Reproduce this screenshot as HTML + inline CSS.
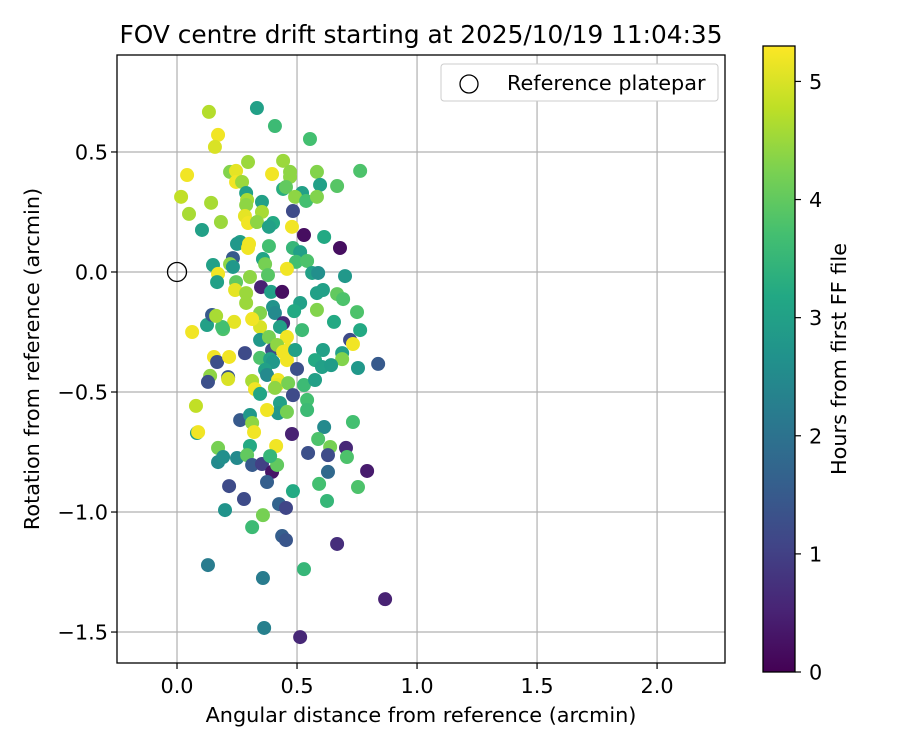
<!DOCTYPE html>
<html><head><meta charset="utf-8"><style>
body{margin:0;background:#fff;}
svg text{font-family:"DejaVu Sans","Liberation Sans",sans-serif;fill:#000;}
</style></head><body>
<svg id="chart" width="900" height="750" xmlns="http://www.w3.org/2000/svg">
<defs><linearGradient id="vir" x1="0" y1="1" x2="0" y2="0">
<stop offset="0" stop-color="#440154"/><stop offset="0.1" stop-color="#482475"/><stop offset="0.2" stop-color="#414487"/><stop offset="0.3" stop-color="#355f8d"/><stop offset="0.4" stop-color="#2a788e"/><stop offset="0.5" stop-color="#21918c"/><stop offset="0.6" stop-color="#22a884"/><stop offset="0.7" stop-color="#44bf70"/><stop offset="0.8" stop-color="#7ad151"/><stop offset="0.9" stop-color="#bddf26"/><stop offset="1" stop-color="#fde725"/>
</linearGradient>
<clipPath id="plotclip"><rect x="117" y="55" width="608" height="608"/></clipPath></defs>
<text x="421" y="43" font-size="24.8" text-anchor="middle">FOV centre drift starting at 2025/10/19 11:04:35</text>
<g id="grid"></g>
<g id="points" clip-path="url(#plotclip)"></g>
<rect x="117" y="55" width="608" height="608" fill="none" stroke="#000" stroke-width="1.3"/>
<g id="ticks"></g>
<text x="421" y="722" font-size="20.8" text-anchor="middle">Angular distance from reference (arcmin)</text>
<text transform="translate(39,359) rotate(-90)" font-size="20.8" text-anchor="middle">Rotation from reference (arcmin)</text>
<g>
<rect x="441" y="64" width="277" height="37" rx="3" fill="#fff" stroke="#ccc"/>
<circle cx="469" cy="84" r="9" fill="none" stroke="#000" stroke-width="1.3"/>
<text x="507" y="90" font-size="20.8">Reference platepar</text>
</g>
<rect x="763" y="46" width="32" height="626" fill="url(#vir)" stroke="#000" stroke-width="1.3"/>
<g id="cbticks"></g>
<text transform="translate(846,359) rotate(-90)" font-size="20.8" text-anchor="middle">Hours from first FF file</text>
</svg>
<script>
const xTicks=[0,0.5,1.0,1.5,2.0];
const xTickLabels=["0.0","0.5","1.0","1.5","2.0"];
const yTicks=[0.5,0,-0.5,-1.0,-1.5];
const yTickLabels=["0.5","0.0","\u22120.5","\u22121.0","\u22121.5"];
const cTicks=[0,1,2,3,4,5];
const refPoint=[0,0];
const xs=[0.133,0.333,0.408,0.554,0.171,0.158,0.296,0.442,0.042,0.221,0.246,0.246,0.271,0.396,0.471,0.471,0.583,0.763,0.596,0.667,0.442,0.454,0.521,0.492,0.538,0.583,0.017,0.142,0.05,0.183,0.104,0.288,0.292,0.288,0.354,0.354,0.283,0.296,0.333,0.4,0.383,0.483,0.479,0.529,0.613,0.679,0.263,0.25,0.3,0.296,0.383,0.483,0.513,0.496,0.542,0.358,0.367,0.233,0.221,0.233,0.15,0.171,0.458,0.563,0.588,0.7,0.304,0.379,
0.167,0.246,0.35,0.392,0.438,0.242,0.288,0.288,0.583,0.608,0.667,0.692,0.4,0.408,0.513,0.488,0.583,0.75,0.654,0.763,0.721,0.733,0.688,0.688,0.608,0.575,0.604,0.642,0.754,0.838,0.521,0.346,0.442,0.429,0.458,0.346,0.313,0.238,0.192,0.188,0.125,0.146,0.163,0.063,0.346,0.383,0.396,0.417,0.442,0.463,0.458,0.492,0.5,0.346,0.388,0.4,0.367,0.375,0.283,0.154,0.167,0.217,0.138,0.129,0.213,0.213,0.313,0.325,0.346,0.421,0.417,0.408,0.463,0.529,0.575,0.483,0.542,0.542,0.429,0.421,0.458,0.375,0.263,0.304,0.313,0.321,0.079,0.083,0.088,0.171,0.304,0.413,0.479,0.613,0.733,0.588,0.638,0.704,0.546,0.629,0.708,
0.171,0.192,0.25,0.292,0.313,0.354,0.396,0.417,0.388,0.629,0.792,0.217,0.279,0.375,0.483,0.592,0.754,0.625,0.2,0.425,0.454,0.358,0.313,0.438,0.454,0.667,0.129,0.358,0.529,0.867,0.363,0.513];
const ys=[0.667,0.683,0.608,0.554,0.571,0.521,0.458,0.463,0.404,0.417,0.421,0.375,0.375,0.408,0.417,0.396,0.417,0.421,0.363,0.358,0.346,0.354,0.329,0.313,0.296,0.313,0.313,0.288,0.242,0.208,0.175,0.329,0.3,0.279,0.292,0.25,0.233,0.204,0.208,0.204,0.188,0.254,0.188,0.154,0.146,0.1,0.125,0.117,0.117,0.1,0.108,0.1,0.083,0.042,0.046,0.054,0.033,0.058,0.033,0.021,0.029,-0.008,0.013,-0.004,-0.004,-0.017,-0.021,-0.013,
-0.042,-0.042,-0.063,-0.083,-0.083,-0.075,-0.088,-0.129,-0.088,-0.075,-0.092,-0.113,-0.146,-0.171,-0.129,-0.163,-0.158,-0.167,-0.208,-0.242,-0.283,-0.3,-0.338,-0.363,-0.325,-0.367,-0.396,-0.388,-0.4,-0.383,-0.242,-0.171,-0.213,-0.229,-0.271,-0.229,-0.196,-0.208,-0.238,-0.229,-0.221,-0.179,-0.183,-0.25,-0.283,-0.271,-0.325,-0.304,-0.333,-0.325,-0.367,-0.325,-0.404,-0.358,-0.363,-0.375,-0.408,-0.429,-0.338,-0.354,-0.375,-0.354,-0.433,-0.458,-0.438,-0.446,-0.454,-0.488,-0.508,-0.45,-0.471,-0.483,-0.463,-0.471,-0.45,-0.513,-0.533,-0.575,-0.546,-0.588,-0.583,-0.575,-0.617,-0.596,-0.629,-0.667,-0.558,-0.671,-0.667,-0.733,-0.725,-0.725,-0.675,-0.646,-0.625,-0.696,-0.729,-0.733,-0.754,-0.763,-0.771,
-0.792,-0.771,-0.775,-0.763,-0.804,-0.8,-0.833,-0.804,-0.767,-0.833,-0.829,-0.892,-0.946,-0.875,-0.913,-0.883,-0.896,-0.954,-0.992,-0.967,-0.983,-1.013,-1.063,-1.1,-1.117,-1.133,-1.221,-1.275,-1.238,-1.363,-1.483,-1.521];
const hours=[4.7,3,3.6,3.7,5.2,5,4.5,4.5,5.2,4.3,5.1,5.2,4.5,5.2,4.4,4.4,4.3,3.8,3,3.9,3.3,4,3,4.4,3.7,4.3,4.8,4.6,4.6,4.5,3,3,4.6,4.4,3,4.6,5.1,5.2,4.4,3.2,3,1.2,5.2,0.2,3.2,0.2,3,2.8,5.2,5.2,3.7,3.5,3,3.7,3.8,3.1,4.2,1.5,4.4,2.8,3,5.2,5.2,3,2.6,2.8,4.4,3.9,
3,4,0.5,3,0.2,5.1,4.5,4.5,3,3,4,3.8,2.7,2.5,3,3.2,4.3,3.8,3.2,3.2,1.2,5.2,3,4.3,3,3.2,3,2.9,2.8,1.5,3.6,4.3,0.6,3,5.2,5,5.2,5.1,3.8,3.7,3,1.5,4.6,5.2,2.8,4.2,1.2,4.4,5.2,5.2,5.2,3,1.3,3.8,3,2.8,3,2.5,1.2,5.2,1.3,5.2,4.4,1.3,1.4,5,4.6,5.2,3.1,5.2,5.1,4.4,4.2,3.6,3,1.2,3.7,3.6,3,2.8,4.2,5.2,1.5,2.8,4.4,5.2,4.8,3,5.2,4.2,3.2,5.2,0.5,2.5,3.7,3.8,4.2,0.6,1.3,1.2,3.8,
2.5,2.6,2.5,4,1.5,1,0.3,4,3.5,1.8,0.4,1.2,1.2,1.6,3.2,3.7,3.8,3.5,2.7,1.7,1.1,4.2,3.6,1.6,1.4,0.7,2.2,2.2,3.5,0.5,2.3,0.6];

const NS='http://www.w3.org/2000/svg';
const X0=117,X1=725,Y0=55,Y1=663,XMIN=-0.25,XMAX=2.283,YMIN=-1.629,YMAX=0.904,CMAX=5.3;
function sx(v){return X0+(v-XMIN)/(XMAX-XMIN)*(X1-X0);}
function sy(v){return Y1-(v-YMIN)/(YMAX-YMIN)*(Y1-Y0);}
function sc(v){return 672-v/CMAX*626;}
const vir=[[68,1,84],[72,36,117],[65,68,135],[53,95,141],[42,120,142],[33,145,140],[34,168,132],[68,191,112],[122,209,81],[189,223,38],[253,231,37]];
function color(h){let t=Math.max(0,Math.min(1,h/CMAX))*10;let i=Math.min(9,Math.floor(t)),f=t-i;const a=vir[i],b=vir[i+1];return 'rgb('+a.map((c,k)=>Math.round(c+(b[k]-c)*f)).join(',')+')';}
function mk(tag,attrs,parent){const e=document.createElementNS(NS,tag);for(const k in attrs)e.setAttribute(k,attrs[k]);parent.appendChild(e);return e;}
const grid=document.getElementById('grid'),ticks=document.getElementById('ticks'),pts=document.getElementById('points'),cb=document.getElementById('cbticks');
xTicks.forEach((v,i)=>{const x=sx(v);
 const g=mk('line',{x1:x,x2:x,y1:Y0,y2:Y1,stroke:'#b0b0b0','stroke-width':1.2},grid);
 
 
 const t=mk('line',{x1:x,x2:x,y1:Y1,y2:Y1+6,stroke:'#000','stroke-width':1.2},ticks);
 
 
 const l=mk('text',{x:x,y:Y1+30,'font-size':20.8,'text-anchor':'middle'},ticks);l.textContent=xTickLabels[i];
 
 
});
yTicks.forEach((v,i)=>{const y=sy(v);
 const g=mk('line',{x1:X0,x2:X1,y1:y,y2:y,stroke:'#b0b0b0','stroke-width':1.2},grid);
 
 
 const t=mk('line',{x1:X0-6,x2:X0,y1:y,y2:y,stroke:'#000','stroke-width':1.2},ticks);
 
 
 const l=mk('text',{x:X0-9,y:y+7.5,'font-size':20.8,'text-anchor':'end'},ticks);l.textContent=yTickLabels[i];
 
 
});
xs.forEach((v,i)=>{const c=mk('circle',{cx:sx(v),cy:sy(ys[i]),r:7,fill:color(hours[i])},pts);
 
 
});
const rc=mk('circle',{cx:sx(refPoint[0]),cy:sy(refPoint[1]),r:9.5,fill:'none',stroke:'#000','stroke-width':1.3},pts);


cTicks.forEach(v=>{const y=sc(v);
 const t=mk('line',{x1:795,x2:801,y1:y,y2:y,stroke:'#000','stroke-width':1.2},cb);
 
 
 const l=mk('text',{x:809,y:y+7.5,'font-size':20.8},cb);l.textContent=String(v);
 
 
});
</script>
</body></html>
